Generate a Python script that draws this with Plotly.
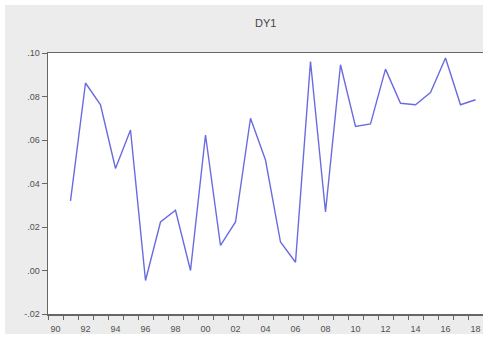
import plotly.graph_objects as go

years = list(range(1991, 2019))
dy1 = [0.032, 0.0862, 0.0762, 0.0469, 0.0646, -0.0046, 0.0223, 0.0277, 0.0000,
       0.0623, 0.0115, 0.0223, 0.0700, 0.0508, 0.0131, 0.0038, 0.0961, 0.0269,
       0.0946, 0.0662, 0.0674, 0.0926, 0.0769, 0.0762, 0.0818, 0.0977, 0.0762,
       0.0785]

x_tick_vals = list(range(1990, 2019, 2))
x_tick_text = ["90", "92", "94", "96", "98", "00", "02", "04", "06", "08",
               "10", "12", "14", "16", "18"]
y_tick_vals = [-0.02, 0.00, 0.02, 0.04, 0.06, 0.08, 0.10]
y_tick_text = ["-.02", ".00", ".02", ".04", ".06", ".08", ".10"]

fig = go.Figure()
fig.add_trace(go.Scatter(x=years, y=dy1, mode="lines",
                         line=dict(color="#6b6be0", width=1.4),
                         hoverinfo="skip"))

W, H = 483, 342
L, R, T, B = 48, 0, 53, 28
pw, ph = W - L - R, H - T - B

def px_x(v):
    return (v - L) / pw

def px_y(v):
    return (H - B - v) / ph

# grey panel behind the chart and white plotting area on top of it
fig.add_shape(type="rect", xref="paper", yref="paper",
              x0=px_x(5), x1=px_x(500), y0=px_y(334), y1=px_y(5),
              fillcolor="#ececec", line=dict(width=0), layer="below")
fig.add_shape(type="rect", xref="paper", yref="paper",
              x0=0, x1=1, y0=0, y1=1,
              fillcolor="white", line=dict(width=0), layer="below")

fig.add_annotation(text="DY1", xref="paper", yref="paper",
                   x=0.5, y=px_y(23), xanchor="center", yanchor="middle",
                   showarrow=False,
                   font=dict(family="Liberation Sans, Arial", size=11, color="#444444"))

fig.update_layout(
    width=W, height=H,
    margin=dict(l=L, r=R, t=T, b=B),
    paper_bgcolor="white",
    plot_bgcolor="white",
    showlegend=False,
    font=dict(family="Liberation Sans, Arial", size=9, color="#505050"),
)
fig.update_xaxes(range=[1989.5, 2018.5], tickmode="array",
                 tickvals=x_tick_vals, ticktext=x_tick_text,
                 ticks="outside", ticklen=6, tickcolor="rgba(0,0,0,0)",
                 minor=dict(tick0=1989.5, dtick=1, ticks="outside", ticklen=4,
                            tickcolor="#666666", tickwidth=1, showgrid=False),
                 showgrid=False, zeroline=False,
                 showline=True, linecolor="#666666", linewidth=1.5, mirror=True)
fig.update_yaxes(range=[-0.02, 0.10], tickmode="array",
                 tickvals=y_tick_vals, ticktext=y_tick_text,
                 ticks="outside", ticklen=5, tickcolor="#666666", tickwidth=1,
                 showgrid=False, zeroline=False,
                 showline=True, linecolor="#666666", linewidth=1.5, mirror=False)

fig.write_html("out.html",
               config={"displayModeBar": False, "staticPlot": True},
               post_script="document.body.style.margin='0';document.body.style.padding='0';document.body.style.overflow='hidden';")
